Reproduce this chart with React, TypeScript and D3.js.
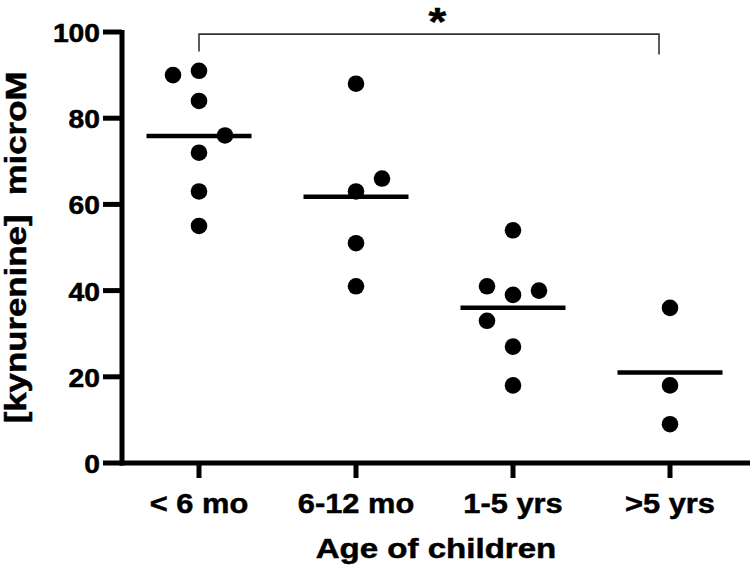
import React from "react";
import * as d3 from "d3";

// ---- data ----
const categories = ["< 6 mo", "6-12 mo", "1-5 yrs", ">5 yrs"];
const lt6mo = [91, 90, 84, 76, 72, 63, 55];
const m6to12 = [88, 66, 63, 51, 41];
const y1to5 = [54, 41, 40, 39, 33, 27, 18];
const gt5y = [36, 18, 9];
const seriesValues = [lt6mo, m6to12, y1to5, gt5y];
// scatter column for overlapping points (-1 left, 0 centre, +1 right)
const lt6moCol = [0, -1, 0, 1, 0, 0, 0];
const m6to12Col = [0, 1, 0, 0, 0];
const y1to5Col = [0, -1, 1, 0, -1, 0, 0];
const gt5yCol = [0, 0, 0];
const seriesCols = [lt6moCol, m6to12Col, y1to5Col, gt5yCol];
const yTicks = [0, 20, 40, 60, 80, 100];
const yTitle = "[kynurenine]\u00a0\u00a0microM";
const xTitle = "Age of children";
const sigLabel = "*";

const W = 750;
const H = 571;
const FONT = "'Liberation Sans', Arial, Helvetica, sans-serif";

export default function App() {
  const axisX = 122;
  const axisY = 463;
  const y = d3.scaleLinear().domain([0, 100]).range([axisY, 32]);
  const x = d3.scalePoint<string>().domain(categories).range([199, 670]);
  const colStep = 26;
  const r = 8.3;
  const meanHalf = 52.5;

  const bracketLeft = x(categories[0])!;
  const bracketRight = x(categories[3])! - 11;
  const bracketY = y(99.5);
  const textStroke = { stroke: "#000", strokeWidth: 0.5 };

  return (
    <svg
      width={W}
      height={H}
      style={{ position: "absolute", left: 0, top: 0, background: "#fff" }}
      fontFamily={FONT}
      fontWeight="bold"
    >
      <rect x={0} y={0} width={W} height={H} fill="#fff" />
      {/* axes */}
      <line x1={axisX} x2={axisX} y1={y(100) - 2} y2={axisY + 2.5} stroke="#000" strokeWidth={5} />
      <line x1={axisX - 2.5} x2={W} y1={axisY} y2={axisY} stroke="#000" strokeWidth={5} />
      {yTicks.map((t) => (
        <g key={t}>
          <line x1={103} x2={axisX} y1={y(t)} y2={y(t)} stroke="#000" strokeWidth={5} />
          <text
            transform={`translate(100,${y(t) + 10}) scale(1.13,1)`}
            textAnchor="end"
            fontSize={25}
            {...textStroke}
          >
            {t}
          </text>
        </g>
      ))}
      {categories.map((c) => (
        <g key={c}>
          <line x1={x(c)!} x2={x(c)!} y1={axisY} y2={478} stroke="#000" strokeWidth={5} />
          <text
            transform={`translate(${x(c)!},513) scale(1.1,1)`}
            textAnchor="middle"
            fontSize={28}
            {...textStroke}
          >
            {c}
          </text>
        </g>
      ))}
      {/* axis titles */}
      <text
        transform={`translate(${(axisX + W) / 2},558) scale(1.16,1)`}
        textAnchor="middle"
        fontSize={28.5}
        {...textStroke}
      >
        {xTitle}
      </text>
      <text
        transform={`translate(26,${(y(0) + y(100)) / 2}) rotate(-90) scale(1.16,1)`}
        textAnchor="middle"
        fontSize={30}
        {...textStroke}
      >
        {yTitle}
      </text>
      {/* points and means */}
      {seriesValues.map((vals, gi) => {
        const cx = x(categories[gi])!;
        const m = d3.mean(vals)!;
        return (
          <g key={gi}>
            {vals.map((v, i) => (
              <circle key={i} cx={cx + seriesCols[gi][i] * colStep} cy={y(v)} r={r} fill="#000" />
            ))}
            <line x1={cx - meanHalf} x2={cx + meanHalf} y1={y(m)} y2={y(m)} stroke="#000" strokeWidth={4.5} />
          </g>
        );
      })}
      {/* significance bracket */}
      <path
        d={`M${bracketLeft},${y(95.5)} L${bracketLeft},${bracketY} L${bracketRight},${bracketY} L${bracketRight},${y(94.8)}`}
        fill="none"
        stroke="#333"
        strokeWidth={1.6}
      />
      <text
        transform={`translate(${(bracketLeft + x(categories[3])!) / 2 + 3},35) scale(1.2,1)`}
        textAnchor="middle"
        fontSize={38}
        {...textStroke}
      >
        {sigLabel}
      </text>
    </svg>
  );
}
